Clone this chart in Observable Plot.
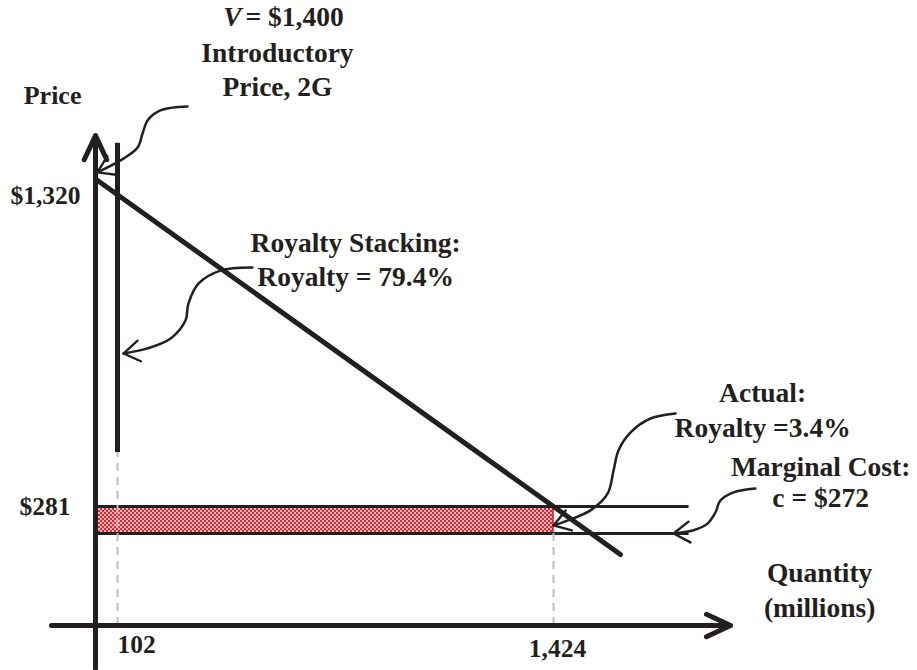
<!DOCTYPE html>
<html><head><meta charset="utf-8">
<script src="https://cdn.jsdelivr.net/npm/d3@7"></script>
<script src="https://cdn.jsdelivr.net/npm/@observablehq/plot@0.6"></script>
<style>body{margin:0;background:#fff} #chart svg{display:block}</style>
</head><body><div id="chart"></div>
<script>
// ---- Data (quantity in millions, price in $) ----
const xTickValues = [102, 1424];
const xTickLabels = ["102", "1,424"];
const yTickValues = [1320, 281];
const yTickLabels = ["$1,320", "$281"];
const demandQ = [0, 1424, 1627];
const demandP = [1375, 281, 210];
const stackQ = 102;           // quantity under royalty stacking
const stackP = 1320;          // price under royalty stacking
const introPrice = 1400;      // V
const actualQ = 1424;         // actual quantity
const actualP = 281;          // actual price
const marginalCost = 272;     // c
// callout curves (q, p)
const calloutV = [[314,1617],[232,1604],[193,1570],[178,1527],[163,1480],[120,1443],[9,1397]];
const calloutStack = [[511,1079],[414,1069],[348,1026],[317,959],[308,902],[263,842],[193,809],[120,792]];
const calloutActual = [[1794,592],[1718,575],[1657,528],[1621,468],[1606,401],[1588,324],[1536,279.7],[1466,276.3],[1424,274.7]];
const calloutMC = [[2036,341],[1970,328],[1930,301],[1915,279],[1891,275.3],[1846,273],[1788,272]];

// ---- derived tables ----
const demand = demandQ.map((q, i) => ({q, p: demandP[i]}));
const callouts = [
  ["V", calloutV], ["stack", calloutStack], ["actual", calloutActual], ["mc", calloutMC]
].flatMap(([id, pts]) => pts.map(([q, p]) => ({id, q, p})));

const font = "'Liberation Serif', 'Times New Roman', serif";
const ink = "#231f20";
const txt = (data, opts) => Plot.text(data, {x: "q", y: "p", text: "t", fontFamily: font, fontWeight: "bold", fontSize: 27.5, fill: ink, ...opts});

const chart = Plot.plot({
  width: 917, height: 670,
  marginLeft: 0, marginRight: 0, marginTop: 0, marginBottom: 0,
  x: {type: "linear", domain: [0, stackQ, actualQ], range: [95, 117, 553], axis: null},
  y: {type: "linear", domain: [0, marginalCost, actualP, introPrice], range: [625, 533, 506, 171], axis: null},
  marks: [
    // royalty band
    Plot.rect([{x1: 0, x2: actualQ, y1: marginalCost, y2: actualP}], {x1: "x1", x2: "x2", y1: "y1", y2: "y2", fill: "url(#chk)", stroke: "#e3121c", strokeWidth: 1.5}),
    // price and marginal cost lines
    Plot.ruleY([actualP, marginalCost], {x1: 0, x2: 1835, stroke: ink, strokeWidth: 3}),
    // dashed drop lines
    Plot.ruleX([{q: stackQ, top: 461}, {q: actualQ, top: marginalCost}], {x: "q", y1: 0, y2: "top", stroke: "#bdbdbd", strokeWidth: 2, strokeDasharray: "8,6"}),
    // royalty stacking quantity line
    Plot.ruleX([stackQ], {y1: 461, y2: 1494, stroke: ink, strokeWidth: 5}),
    // demand curve
    Plot.line(demand, {x: "q", y: "p", stroke: ink, strokeWidth: 5}),
    // axes
    Plot.arrow([{x1: 0, y1: -127, x2: 0, y2: 1520}, {x1: -204, y1: 0, x2: 1961, y2: 0}],
      {x1: "x1", y1: "y1", x2: "x2", y2: "y2", stroke: ink, strokeWidth: 5, headLength: 8, headAngle: 50}),
    // callouts
    Plot.line(callouts, {x: "q", y: "p", z: "id", curve: "catmull-rom", stroke: ink, strokeWidth: 2.5, markerEnd: "arrow"}),
    // tick labels
    Plot.text([yTickValues[0]], {x: 0, y: d => d, text: () => yTickLabels[0], textAnchor: "end", dx: -15, fontFamily: font, fontWeight: "bold", fontSize: 25.5, fill: ink}),
    Plot.text([yTickValues[1]], {x: 0, y: d => d, text: () => yTickLabels[1], textAnchor: "end", dx: -25, fontFamily: font, fontWeight: "bold", fontSize: 25.5, fill: ink}),
    Plot.text([xTickValues[0]], {x: d => d, y: 0, text: () => xTickLabels[0], dx: 19, dy: 19, fontFamily: font, fontWeight: "bold", fontSize: 25.5, fill: ink}),
    Plot.text([xTickValues[1]], {x: d => d, y: 0, text: () => xTickLabels[1], dx: 4, dy: 23, fontFamily: font, fontWeight: "bold", fontSize: 25.5, fill: ink}),
    // annotations
    txt([{q: 478, p: 1914, t: "V"}], {textAnchor: "end", fontStyle: "italic"}),
    txt([{q: 490, p: 1914, t: "= $1,400"}], {textAnchor: "start"}),
    txt([
      {q: 587, p: 1794, t: "Introductory"},
      {q: 587, p: 1683, t: "Price, 2G"},
      {q: 824, p: 1160, t: "Royalty Stacking:"},
      {q: 824, p: 1046, t: "Royalty = 79.4%"},
      {q: 2058, p: 658, t: "Actual:"},
      {q: 2058, p: 542, t: "Royalty =3.4%"},
      {q: 2234, p: 411, t: "Marginal Cost:"},
      {q: 2234, p: 308, t: "c = $272"},
      {q: 2231, p: 154, t: "Quantity"},
      {q: 2231, p: 50, t: "(millions)"}
    ], {}),
    txt([{q: -199, p: 1654, t: "Price"}], {fontSize: 26})
  ]
});

// checker pattern for the royalty band
d3.select(chart).insert("defs", ":first-child").html(
  '<pattern id="chk" width="4" height="4" patternUnits="userSpaceOnUse">' +
  '<rect width="4" height="4" fill="#f6b9bd"/>' +
  '<rect width="2" height="2" fill="#e4252f"/><rect x="2" y="2" width="2" height="2" fill="#e4252f"/></pattern>');
// larger, narrower open arrowheads for callouts
d3.select(chart).selectAll("marker").attr("markerWidth", 16).attr("markerHeight", 16).attr("stroke-width", 0.6)
  .select("path").attr("d", "M-4,-2.6L0,0L-4,2.6");

document.getElementById("chart").appendChild(chart);
</script>
</body></html>
